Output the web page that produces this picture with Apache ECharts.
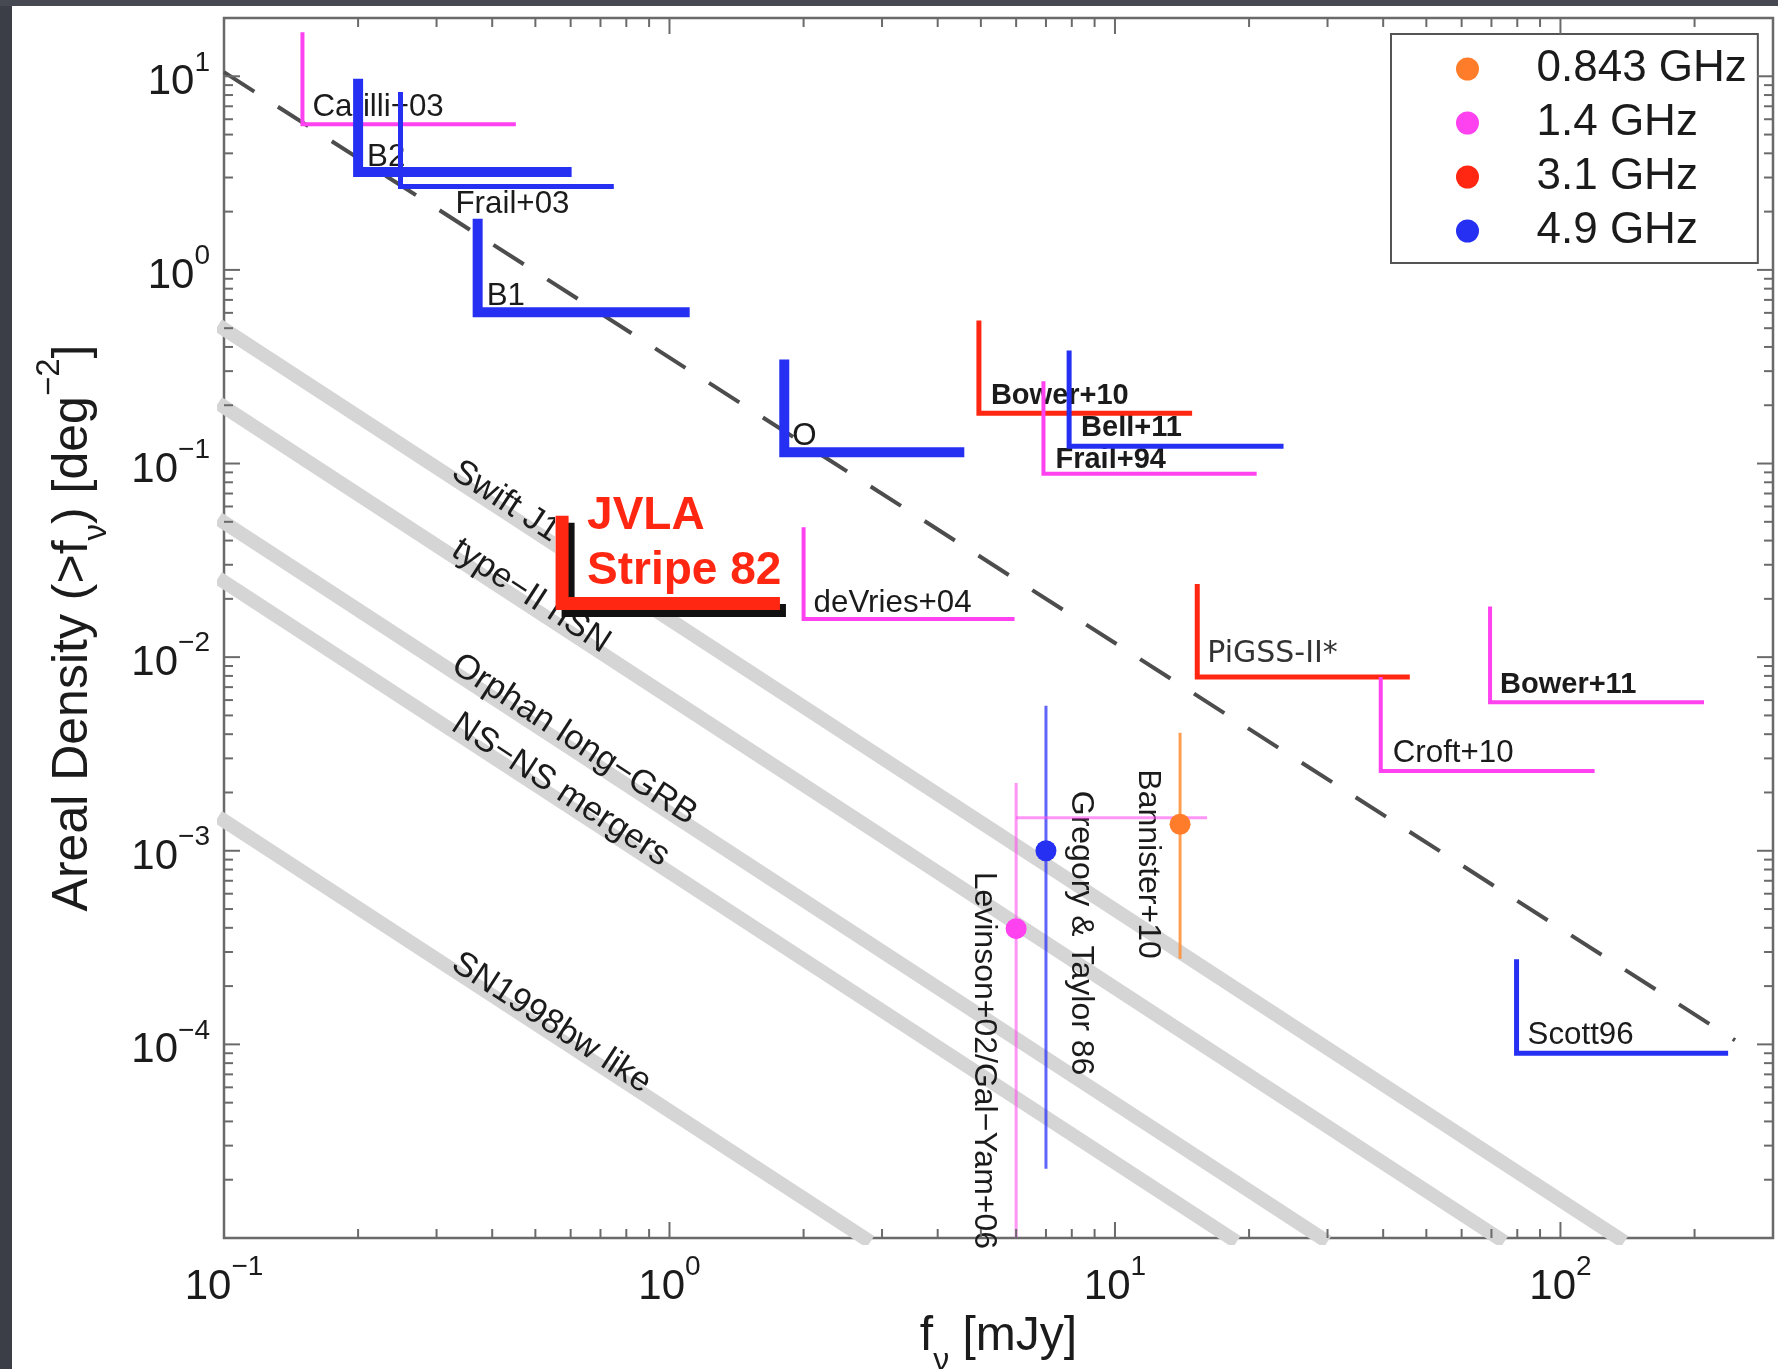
<!DOCTYPE html>
<html>
<head>
<meta charset="utf-8">
<script src="https://cdn.jsdelivr.net/npm/echarts@6/dist/echarts.min.js"></script>
<style>
  html, body { margin: 0; padding: 0; background: #ffffff; overflow: hidden; }
  #chart { width: 1778px; height: 1369px; }
</style>
</head>
<body>
<div id="chart"></div>
<script>
// ---------------- data ----------------
// Axis ranges and labelled decades
const xRange = [0.1, 300];
const yRange = [1e-5, 20];
const xTickExponents = [-1, 0, 1, 2];
const yTickExponents = [-4, -3, -2, -1, 0, 1];

// Observing frequencies (legend)
const freqNames = ['0.843 GHz', '1.4 GHz', '3.1 GHz', '4.9 GHz'];

// Survey limits: vertical from (flux, top) down to (flux, density), then right to (fluxEnd, density)
const surveyNames    = ['Carilli+03', 'B2', 'Frail+03', 'B1', 'O', 'Bower+10', 'Bell+11', 'Frail+94', 'deVries+04', 'PiGSS-II*', 'Croft+10', 'Bower+11', 'Scott96', 'JVLA Stripe 82'];
const surveyFreq     = ['1.4 GHz', '4.9 GHz', '4.9 GHz', '4.9 GHz', '4.9 GHz', '3.1 GHz', '4.9 GHz', '1.4 GHz', '1.4 GHz', '3.1 GHz', '1.4 GHz', '1.4 GHz', '4.9 GHz', '3.1 GHz'];
const surveyFlux     = [0.15, 0.2, 0.249, 0.371, 1.81, 4.95, 7.89, 6.91, 2.0, 15.3, 39.5, 69.5, 79.7, 0.574];
const surveyDensity  = [5.65, 3.2, 2.70, 0.605, 0.1144, 0.182, 0.1229, 0.0885, 0.01575, 0.0079, 0.00258, 0.00585, 9.0e-5, 0.0189];
const surveyTop      = [16.9, 9.7, 8.3, 1.84, 0.345, 0.548, 0.384, 0.266, 0.0469, 0.0239, 0.0079, 0.01824, 2.75e-4, 0.0538];
const surveyFluxEnd  = [0.452, 0.603, 0.75, 1.11, 4.59, 14.9, 23.9, 20.8, 5.95, 45.9, 119.3, 210, 237.9, 1.77];
const jvlaLabelLines = ['JVLA', 'Stripe 82'];

// Single detections with vertical error bars
const pointNames   = ['Bannister+10', 'Gregory & Taylor 86', 'Levinson+02/Gal\u2212Yam+06'];
const pointFreq    = ['0.843 GHz', '4.9 GHz', '1.4 GHz'];
const pointFlux    = [14.0, 7.0, 6.0];
const pointDensity = [1.37e-3, 1.0e-3, 3.96e-4];
const pointLow     = [2.77e-4, 2.28e-5, 1e-5];
const pointHigh    = [4.07e-3, 5.61e-3, 2.24e-3];
// Gal-Yam limit drawn as a horizontal bar from the Levinson flux
const galYamDensity = 1.48e-3;
const galYamFluxEnd = 16.1;

// Transient population rate tracks, N(>S) from 0.1 mJy down to 1e-5 deg^-2
const bandNames        = ['Swift J1644+57', 'type\u2212II hSN', 'Orphan long\u2212GRB', 'NS\u2212NS mergers', 'SN1998bw like'];
const bandStartFlux    = 0.1;
const bandStartDensity = [0.495, 0.196, 0.0496, 0.0245, 0.00143];
const bandEndFlux      = [135, 72.6, 29.1, 18.2, 2.74];
const bandEndDensity   = 1e-5;

// Euclidean source counts (dashed)
const euclidFlux    = [0.1, 246.5];
const euclidDensity = [10.5, 1.05e-4];

// ---------------- styles ----------------
const FONT = "'Liberation Sans', Arial, Helvetica, sans-serif";
const TEXT = '#1b1b1b';
const freqColor = {
  '0.843 GHz': '#ff7d2a',
  '1.4 GHz':   '#ff42ef',
  '3.1 GHz':   '#ff2712',
  '4.9 GHz':   '#2530f2'
};
const barColor = {
  '0.843 GHz': 'rgba(255,140,50,0.85)',
  '1.4 GHz':   'rgba(255,80,240,0.6)',
  '4.9 GHz':   'rgba(40,50,245,0.75)'
};
const surveyWidth = {
  'Carilli+03': 4, 'B2': 10, 'Frail+03': 5, 'B1': 10, 'O': 10, 'Bower+10': 5, 'Bell+11': 5,
  'Frail+94': 4, 'deVries+04': 4, 'PiGSS-II*': 5, 'Croft+10': 4, 'Bower+11': 4, 'Scott96': 5, 'JVLA Stripe 82': 13
};
// label placement relative to the corner of each L, in pixels
const surveyLabelLayout = {
  'Carilli+03': { dx: 10, dy: -17 },
  'B2':         { dx: 9,  dy: -15 },
  'Frail+03':   { dx: 55, dy: 18 },
  'B1':         { dx: 9,  dy: -16 },
  'O':          { dx: 8,  dy: -16 },
  'Bower+10':   { dx: 12, dy: -17, bold: true },
  'Bell+11':    { dx: 12, dy: -18, bold: true },
  'Frail+94':   { dx: 12, dy: -14, bold: true },
  'deVries+04': { dx: 10, dy: -16 },
  'PiGSS-II*':  { dx: 10, dy: -23, font: "30px 'DejaVu Sans', sans-serif", color: '#333333' },
  'Croft+10':   { dx: 12, dy: -18 },
  'Bower+11':   { dx: 10, dy: -17, bold: true },
  'Scott96':    { dx: 11, dy: -18 }
};
const pointLabelLayout = {
  'Bannister+10':               { dx: -32, dy: -55 },
  'Gregory & Taylor 86':        { dx: 35,  dy: -60 },
  'Levinson+02/Gal\u2212Yam+06': { dx: -32, dy: -57 }
};
const bandLabelFlux = 0.33;
const bandLabelLift = 11;

function supText(e) { return e < 0 ? '\u2212' + (-e) : String(e); }
function decadeLabel(list) {
  return function (v) {
    const e = Math.round(Math.log10(v));
    if (Math.abs(Math.log10(v) - e) > 1e-6 || list.indexOf(e) < 0) return '';
    return '{b|10}{s|' + supText(e) + '}';
  };
}
const tickRich = {
  b: { fontSize: 42, lineHeight: 55, verticalAlign: 'bottom', fontFamily: FONT, color: TEXT },
  s: { fontSize: 28, lineHeight: 24, verticalAlign: 'top', fontFamily: FONT, color: TEXT }
};

// frame ticks on all four sides (decades long, 2..9 short)
function tickValues(lo, hi) {
  const out = [];
  for (let k = Math.floor(Math.log10(lo)); k <= Math.ceil(Math.log10(hi)); k++) {
    for (let m = 1; m <= 9; m++) {
      const v = m * Math.pow(10, k);
      if (v >= lo * 0.9999 && v <= hi * 1.0001) out.push({ v: v, major: m === 1 });
    }
  }
  return out;
}
function renderTicks(params, api) {
  const lb = api.coord([xRange[0], yRange[0]]);
  const rt = api.coord([xRange[1], yRange[1]]);
  const st = { stroke: '#6a6a6a', lineWidth: 2 };
  const ch = [];
  tickValues(xRange[0], xRange[1]).forEach(t => {
    const x = api.coord([t.v, yRange[0]])[0];
    const len = t.major ? 16 : 9;
    ch.push({ type: 'line', shape: { x1: x, y1: lb[1], x2: x, y2: lb[1] - len }, style: st });
    ch.push({ type: 'line', shape: { x1: x, y1: rt[1], x2: x, y2: rt[1] + len }, style: st });
  });
  tickValues(yRange[0], yRange[1]).forEach(t => {
    const y = api.coord([xRange[0], t.v])[1];
    const len = t.major ? 16 : 9;
    ch.push({ type: 'line', shape: { x1: lb[0], y1: y, x2: lb[0] + len, y2: y }, style: st });
    ch.push({ type: 'line', shape: { x1: rt[0], y1: y, x2: rt[0] - len, y2: y }, style: st });
  });
  return { type: 'group', children: ch };
}

function renderBandLabels(params, api) {
  const ch = [];
  const l0 = Math.log10(bandStartFlux);
  bandNames.forEach((name, i) => {
    const a = api.coord([bandStartFlux, bandStartDensity[i]]);
    const b = api.coord([bandEndFlux[i], bandEndDensity]);
    const t = (Math.log10(bandLabelFlux) - l0) / (Math.log10(bandEndFlux[i]) - l0);
    const ang = Math.atan2(b[1] - a[1], b[0] - a[0]);
    ch.push({
      type: 'text', x: a[0] + (b[0] - a[0]) * t, y: a[1] + (b[1] - a[1]) * t - bandLabelLift, rotation: -ang,
      style: { text: name, fill: TEXT, font: '34.5px ' + FONT, align: 'left', verticalAlign: 'middle' }
    });
  });
  return { type: 'group', children: ch };
}

const jv = surveyNames.length - 1;
function renderJvlaBox(params, api) {
  const c = api.coord([surveyFlux[jv], surveyDensity[jv]]);
  const top = api.coord([surveyFlux[jv], surveyTop[jv]]);
  const end = api.coord([surveyFluxEnd[jv], surveyDensity[jv]]);
  const x0 = c[0] - 7, y0 = top[1] - 32;
  return { type: 'rect', shape: { x: x0, y: y0, width: end[0] + 10 - x0, height: c[1] - y0 }, style: { fill: '#ffffff' } };
}

function renderLabels(params, api) {
  const ch = [];
  surveyNames.forEach((name, i) => {
    const lay = surveyLabelLayout[name];
    if (!lay) return;
    const p = api.coord([surveyFlux[i], surveyDensity[i]]);
    ch.push({
      type: 'text', x: p[0] + lay.dx, y: p[1] + lay.dy,
      style: {
        text: name, fill: lay.color || TEXT,
        font: lay.font || ((lay.bold ? 'bold 29px ' : '31.3px ') + FONT),
        align: 'left', verticalAlign: 'middle'
      }
    });
  });
  // two-line annotation of the JVLA limit
  const c = api.coord([surveyFlux[jv], surveyDensity[jv]]);
  jvlaLabelLines.forEach((line, k) => {
    ch.push({
      type: 'text', x: c[0] + 25, y: c[1] - 87 + k * 55,
      style: { text: line, fill: '#ff2712', font: 'bold 46px ' + FONT, align: 'left', verticalAlign: 'middle' }
    });
  });
  // rotated labels of the single detections
  pointNames.forEach((name, i) => {
    const lay = pointLabelLayout[name];
    const p = api.coord([pointFlux[i], pointDensity[i]]);
    ch.push({
      type: 'text', x: p[0] + lay.dx, y: p[1] + lay.dy, rotation: -Math.PI / 2,
      style: { text: name, fill: TEXT, font: '32px ' + FONT, align: 'left', verticalAlign: 'middle' }
    });
  });
  return { type: 'group', children: ch };
}

// ---------------- series ----------------
const series = [];

bandNames.forEach((name, i) => {
  series.push({
    type: 'line', name: name, silent: true, symbol: 'none', z: 1,
    data: [[bandStartFlux, bandStartDensity[i]], [bandEndFlux[i], bandEndDensity]],
    lineStyle: { color: '#d5d5d5', width: 14, cap: 'square' }
  });
});

series.push({
  type: 'line', name: 'Euclidean', silent: true, symbol: 'none', z: 2,
  data: euclidFlux.map((f, i) => [f, euclidDensity[i]]),
  lineStyle: { color: '#4d4d4d', width: 4, type: [36, 28], cap: 'butt' }
});

series.push({ type: 'custom', name: 'bandLabels', silent: true, z: 2, data: [[xRange[0], yRange[0]]], renderItem: renderBandLabels });
series.push({ type: 'custom', name: 'jvlaBox', silent: true, z: 3, data: [[xRange[0], yRange[0]]], renderItem: renderJvlaBox });
series.push({ type: 'custom', name: 'labels', silent: true, z: 4, data: [[xRange[0], yRange[0]]], renderItem: renderLabels });

surveyNames.forEach((name, i) => {
  const isJvla = i === jv;
  series.push({
    type: 'line', name: name, silent: true, symbol: 'none', z: 5,
    data: [[surveyFlux[i], surveyTop[i]], [surveyFlux[i], surveyDensity[i]], [surveyFluxEnd[i], surveyDensity[i]]],
    lineStyle: Object.assign(
      { color: freqColor[surveyFreq[i]], width: surveyWidth[name], join: 'miter', cap: 'butt' },
      isJvla ? { shadowColor: '#111111', shadowBlur: 0, shadowOffsetX: 6, shadowOffsetY: 7 } : {}
    )
  });
});

pointNames.forEach((name, i) => {
  series.push({
    type: 'line', name: name + ' error', silent: true, symbol: 'none', z: 5,
    data: [[pointFlux[i], pointLow[i]], [pointFlux[i], pointHigh[i]]],
    lineStyle: { color: barColor[pointFreq[i]], width: 3 }
  });
});
series.push({
  type: 'line', name: 'Gal-Yam limit', silent: true, symbol: 'none', z: 5,
  data: [[pointFlux[2], galYamDensity], [galYamFluxEnd, galYamDensity]],
  lineStyle: { color: barColor['1.4 GHz'], width: 3 }
});

freqNames.forEach(f => {
  series.push({
    type: 'scatter', name: f, z: 8, symbol: 'circle', symbolSize: 21,
    itemStyle: { color: freqColor[f], opacity: 1 },
    data: pointNames.map((n, i) => pointFreq[i] === f ? [pointFlux[i], pointDensity[i]] : null).filter(d => d)
  });
});

series.push({ type: 'custom', name: 'ticks', silent: true, z: 9, data: [[xRange[0], yRange[0]]], renderItem: renderTicks });

// ---------------- chart ----------------
const chart = echarts.init(document.getElementById('chart'), null, { renderer: 'canvas' });
chart.setOption({
  animation: false,
  backgroundColor: '#ffffff',
  grid: {
    left: 224, right: 5, top: 18, bottom: 131,
    containLabel: false, outerBoundsMode: 'none',
    show: true, borderColor: '#6a6a6a', borderWidth: 2.5, backgroundColor: 'transparent'
  },
  xAxis: {
    type: 'log', logBase: 10, min: xRange[0], max: xRange[1],
    axisLine: { show: false }, axisTick: { show: false }, splitLine: { show: false },
    axisLabel: { margin: 15, formatter: decadeLabel(xTickExponents), rich: tickRich, hideOverlap: false },
    name: '{a|f}{sub|\u03bd}{a| [mJy]}', nameLocation: 'middle', nameGap: 43,
    nameTextStyle: {
      rich: {
        a: { fontSize: 48, lineHeight: 80, fontFamily: FONT, color: TEXT },
        sub: { fontSize: 32, lineHeight: 30, verticalAlign: 'bottom', fontFamily: FONT, color: TEXT }
      }
    }
  },
  yAxis: {
    type: 'log', logBase: 10, min: yRange[0], max: yRange[1],
    axisLine: { show: false }, axisTick: { show: false }, splitLine: { show: false },
    axisLabel: { margin: 14, formatter: decadeLabel(yTickExponents), rich: tickRich, hideOverlap: false },
    name: '{a|Areal Density (>f}{sub|\u03bd}{a|) [deg}{sup|\u22122}{a|]}', nameLocation: 'middle', nameGap: 111, nameRotate: 90,
    nameTextStyle: {
      rich: {
        a: { fontSize: 50, lineHeight: 80, fontFamily: FONT, color: TEXT },
        sub: { fontSize: 33, lineHeight: 52, verticalAlign: 'bottom', fontFamily: FONT, color: TEXT },
        sup: { fontSize: 33, lineHeight: 32, verticalAlign: 'top', fontFamily: FONT, color: TEXT }
      }
    }
  },
  legend: {
    left: 1391, top: 34, orient: 'vertical', selectedMode: false,
    data: freqNames.map(n => ({ name: n, icon: 'circle' })),
    itemWidth: 128, itemHeight: 23, itemGap: 10,
    padding: [13, 11, 10, 65],
    borderColor: '#555555', borderWidth: 2, backgroundColor: '#ffffff',
    textStyle: { fontSize: 44, lineHeight: 44, fontFamily: FONT, color: TEXT }
  },
  graphic: [
    { type: 'rect', left: 0, top: 0, z: 100, shape: { width: 12, height: 1369 }, style: { fill: '#3b3e47' } },
    { type: 'rect', left: 0, top: 0, z: 100, shape: { width: 1778, height: 6 }, style: { fill: '#464952' } }
  ],
  series: series
});
</script>
</body>
</html>
